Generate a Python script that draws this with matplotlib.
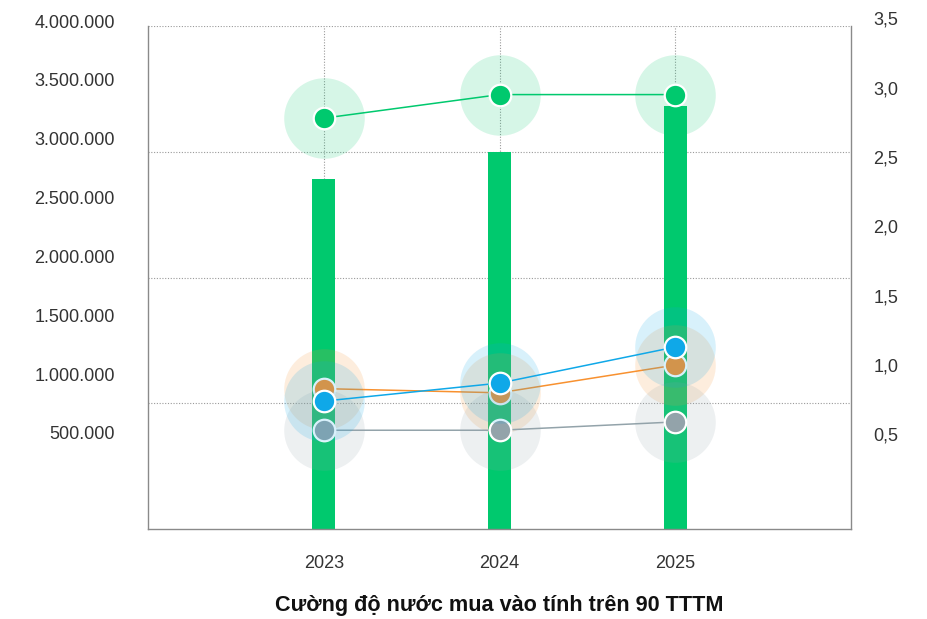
import numpy as np
import matplotlib.pyplot as plt

years = ['2023', '2024', '2025']
bar_vals = [2780000, 3000000, 3360000]
green_vals = [2.78, 2.95, 2.95]
orange_vals = [0.83, 0.80, 1.00]
gray_vals = [0.53, 0.53, 0.59]
blue_vals = [0.74, 0.87, 1.13]
left_ticks = [500000, 1000000, 1500000, 2000000, 2500000, 3000000, 3500000, 4000000]
right_ticks = [0.5, 1.0, 1.5, 2.0, 2.5, 3.0, 3.5]
title = 'Cường độ nước mua vào tính trên 90 TTTM'

W, H = 928, 619
plt.rcParams['font.family'] = ['Liberation Sans', 'DejaVu Sans']


def box(l, t, r, b):
    # pixel box -> figure fraction
    return [l / W, 1 - b / H, (r - l) / W, (b - t) / H]


fig = plt.figure(figsize=(W / 100, H / 100), dpi=100)
x = np.arange(len(years))

# main axes: bars + grid
ax = fig.add_axes(box(148, 26, 851, 529))
ax.set_xlim(-1, 3)
ax.set_ylim(0, 4000000)
ax.bar(x, bar_vals, width=0.13, color='#00C96E', zorder=2)
ax.set_yticks([1000000, 2000000, 3000000, 4000000])
ax.set_xticks(x, years)
ax.grid(True, linestyle=(0, (1, 1.5)), color='#9a9a9a', linewidth=0.8, zorder=0)
ax.set_axisbelow(True)
ax.tick_params(axis='y', left=False, labelleft=False)
ax.tick_params(axis='x', length=0, pad=19, labelsize=13, labelcolor='#333333')
ax.spines['top'].set_visible(False)
for s in ['left', 'right', 'bottom']:
    ax.spines[s].set_color('#8a8a8a')
    ax.spines[s].set_linewidth(1.0)

# left labels
axl = fig.add_axes(box(148, 21, 851, 491.8))
axl.set_ylim(0, 4000000)
axl.patch.set_visible(False)
for s in axl.spines.values():
    s.set_visible(False)
axl.set_xticks([])
axl.set_yticks(left_ticks, [f'{v:,}'.replace(',', '.') for v in left_ticks])
axl.tick_params(axis='y', length=0, pad=24, labelsize=13, labelcolor='#333333')

# right axis with the lines
axr = fig.add_axes(box(148, 18.3, 851, 529))
axr.set_xlim(-1, 3)
axr.set_ylim(-0.182, 3.5)
axr.patch.set_visible(False)
for s in axr.spines.values():
    s.set_visible(False)
axr.set_xticks([])
axr.yaxis.tick_right()
axr.set_yticks(right_ticks, [f'{v:.1f}'.replace('.', ',') for v in right_ticks])
axr.tick_params(axis='y', length=0, pad=16, labelsize=13, labelcolor='#333333')

series = [
    (green_vals, '#00C96E'),
    (orange_vals, '#F8912F'),
    (gray_vals, '#93A3AA'),
    (blue_vals, '#0FA8E8'),
]
for i, (vals, col) in enumerate(series):
    z = 3 + 3 * i
    axr.scatter(x, vals, s=58 ** 2, color=col, alpha=0.16, linewidths=0, zorder=z)
    axr.plot(x, vals, color=col, linewidth=1.1, zorder=z + 1)
    axr.scatter(x, vals, s=15.5 ** 2, color=col, edgecolors='white', linewidths=1.6, zorder=z + 2)

fig.text(499.5 / W, 1 - 605 / H, title, ha='center', va='center', fontsize=15.6,
         fontweight='bold', color='#111111')

fig.savefig('out.png', dpi=100)
